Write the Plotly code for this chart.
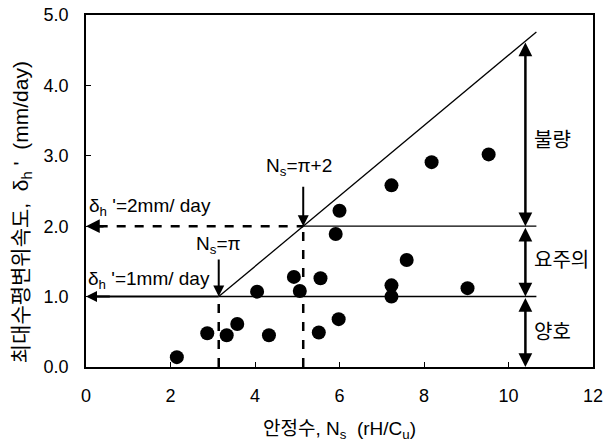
import math
import plotly.graph_objects as go

# Data
ns = [2.15, 2.87, 3.33, 3.58, 4.33, 4.05, 4.92, 5.06, 6.0, 5.91, 5.55, 5.51, 5.98,
      7.59, 7.23, 7.23, 9.03, 7.23, 8.18, 9.53]
dh = [0.14, 0.48, 0.45, 0.61, 0.45, 1.07, 1.28, 1.08, 2.22, 1.89, 1.26, 0.49, 0.68,
      1.52, 1.16, 1.0, 1.12, 2.58, 2.91, 3.02]

x_ticks = [0, 2, 4, 6, 8, 10, 12]
y_ticks = [0, 1, 2, 3, 4, 5]
y_ticklabels = ["0.0", "1.0", "2.0", "3.0", "4.0", "5.0"]

ns1 = math.pi          # Ns = pi
ns2 = math.pi + 2      # Ns = pi + 2
d1, d2 = 1.0, 2.0      # limits (mm/day)
x_end = 10.66          # right end of criteria lines
x_arr = 10.4           # x of zone arrows
slope = 0.5

FONT = "Liberation Sans, Arial, Noto Sans CJK KR, sans-serif"

fig = go.Figure()
fig.add_trace(go.Scatter(x=ns, y=dh, mode="markers",
                         marker=dict(size=14, color="black"), showlegend=False))

shapes = []
shapes.append(dict(type="line", x0=ns1, y0=d1, x1=x_end, y1=d1 + slope * (x_end - ns1),
                   line=dict(color="black", width=1.3)))
shapes.append(dict(type="line", x0=ns1, y0=d1, x1=x_end, y1=d1, line=dict(color="black", width=1.5)))
shapes.append(dict(type="line", x0=ns2, y0=d2, x1=x_end, y1=d2, line=dict(color="black", width=1.3)))
shapes.append(dict(type="line", x0=0.15, y0=d1, x1=ns1, y1=d1, line=dict(color="black", width=2)))
shapes.append(dict(type="line", x0=0.3, y0=d2, x1=ns2, y1=d2, line=dict(color="black", width=2.5, dash="dash")))
shapes.append(dict(type="line", x0=ns1, y0=0, x1=ns1, y1=d1, line=dict(color="black", width=2.5, dash="dash")))
shapes.append(dict(type="line", x0=ns2, y0=0, x1=ns2, y1=d2, line=dict(color="black", width=2.5, dash="dash")))
fig.update_layout(shapes=shapes)

def arrow(x, y, ax, ay, width=2, side="end"):
    fig.add_annotation(x=x, y=y, ax=ax, ay=ay, xref="x", yref="y", axref="x", ayref="y",
                       showarrow=True, arrowhead=2, arrowsize=1.1, arrowwidth=width,
                       arrowcolor="black", arrowside=side, text="")

arrow(0, d1, 0.6, d1, width=2)
arrow(0, d2, 0.45, d2, width=2.5)
arrow(ns1, d1, ns1, 1.55, width=2)
arrow(ns2, d2, ns2, 2.58, width=2)
top = d1 + slope * (x_arr - ns1)
arrow(x_arr, 0, x_arr, d1, width=2.5, side="end+start")
arrow(x_arr, d1, x_arr, d2, width=2.5, side="end+start")
arrow(x_arr, d2, x_arr, top, width=2.5, side="end+start")

def label(x, y, t, anchor="left", size=19):
    fig.add_annotation(x=x, y=y, xref="x", yref="y", text=t, showarrow=False,
                       xanchor=anchor, yanchor="middle",
                       font=dict(family=FONT, size=size, color="black"))

label(0.02, 2.27, "δ<sub>h</sub> '=2mm/ day")
label(0.0, 1.24, "δ<sub>h</sub> '=1mm/ day")
label(ns1, 1.74, "N<sub>s</sub>=π", anchor="center")
label(5.05, 2.84, "N<sub>s</sub>=π+2", anchor="center")
label(10.55, 3.22, "불량", size=20)
label(10.55, 1.52, "요주의", size=20)
label(10.55, 0.5, "양호", size=20)

# y-axis title (as rotated annotation, placed like the reference)
fig.add_annotation(x=-0.126, y=0.44, xref="paper", yref="paper", textangle=-90,
                   text="최대수평변위속도,  δ<sub>h</sub> '  (mm/day)", showarrow=False,
                   xanchor="center", yanchor="middle",
                   font=dict(family=FONT, size=21, color="black"))

fig.update_xaxes(range=[0, 12], tickvals=x_ticks, ticktext=[str(v) for v in x_ticks],
                 ticks="inside", ticklen=5, tickwidth=1.2, tickcolor="black",
                 showline=True, linecolor="black", linewidth=1.5, mirror=True,
                 showgrid=False, zeroline=False, ticklabelstandoff=12, automargin=False,
                 tickfont=dict(family=FONT, size=18, color="black"),
                 title=dict(text="안정수, N<sub>s</sub>  (rH/C<sub>u</sub>)",
                            font=dict(family=FONT, size=19, color="black"), standoff=16))
fig.update_yaxes(range=[0, 5], tickvals=y_ticks, ticktext=y_ticklabels,
                 ticks="inside", ticklen=5, tickwidth=1.2, tickcolor="black",
                 showline=True, linecolor="black", linewidth=1.5, mirror=True,
                 showgrid=False, zeroline=False, ticklabelstandoff=12, automargin=False,
                 tickfont=dict(family=FONT, size=18, color="black"))

fig.update_layout(width=610, height=443, margin=dict(l=86, r=17, t=15, b=76),
                  plot_bgcolor="white", paper_bgcolor="white")
fig.write_html("out.html")
